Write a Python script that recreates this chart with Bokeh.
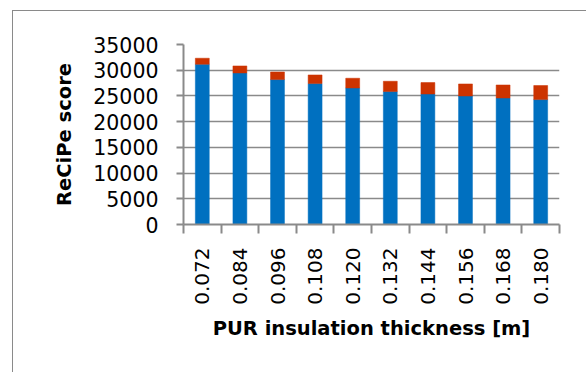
import numpy as np
from bokeh.plotting import figure
from bokeh.models import ColumnDataSource, FixedTicker, Range1d
from bokeh.embed import file_html
from bokeh.resources import INLINE

# ---- data ----
thickness = ["0.072", "0.084", "0.096", "0.108", "0.120",
             "0.132", "0.144", "0.156", "0.168", "0.180"]
series_blue = [31160, 29470, 28180, 27400, 26550, 25850, 25380, 24990, 24600, 24290]
series_red = [1170, 1360, 1480, 1680, 1890, 2000, 2220, 2340, 2530, 2730]
y_ticks = [0, 5000, 10000, 15000, 20000, 25000, 30000, 35000]

n = len(thickness)
centers = [2 * i + 1 for i in range(n)]
bounds = [2 * i for i in range(n + 1)]
blue = np.array(series_blue)
red = np.array(series_red)

src = ColumnDataSource(dict(x=centers, b0=np.zeros(n), b1=blue, t1=blue + red))

FONT = "DejaVu Sans"
GRAY = "#8a8a8a"

p = figure(width=574, height=362, output_backend="svg", toolbar_location=None,
           x_range=Range1d(0, 2 * n), y_range=Range1d(0, 35000),
           min_border_left=170, min_border_right=28, min_border_top=33,
           min_border_bottom=149)
p.styles = {"margin-left": "12px", "margin-top": "10px",
            "border-top": f"1.5px solid {GRAY}",
            "border-left": f"1.5px solid {GRAY}"}
p.outline_line_color = None
p.background_fill_color = "white"
p.border_fill_color = "white"

p.vbar(x="x", bottom="b0", top="b1", width=0.74, source=src,
       fill_color="#0070C0", line_color="#0070C0", line_width=0.5)
p.vbar(x="x", bottom="b1", top="t1", width=0.74, source=src,
       fill_color="#CC3300", line_color="#CC3300", line_width=0.5)

# grid
p.xgrid.grid_line_color = None
p.ygrid.ticker = FixedTicker(ticks=y_ticks)
p.ygrid.grid_line_color = GRAY
p.ygrid.grid_line_width = 1.5

# y axis
ya = p.yaxis[0]
ya.ticker = FixedTicker(ticks=y_ticks)
ya.axis_line_color = GRAY
ya.axis_line_width = 2
ya.major_tick_line_color = GRAY
ya.major_tick_line_width = 2
ya.major_tick_out = 7
ya.major_tick_in = 0
ya.minor_tick_line_color = None
ya.major_label_text_font = FONT
ya.major_label_text_font_size = "20.5px"
ya.major_label_text_color = "black"
ya.major_label_standoff = 18
ya.axis_label = "ReCiPe score"
ya.axis_label_text_font = FONT
ya.axis_label_text_font_size = "19.5px"
ya.axis_label_text_font_style = "bold"
ya.axis_label_text_color = "black"
ya.axis_label_standoff = 14

# x axis
xa = p.xaxis[0]
xa.ticker = FixedTicker(ticks=centers, minor_ticks=bounds)
xa.major_label_overrides = {c: lab for c, lab in zip(centers, thickness)}
xa.major_label_orientation = np.pi / 2
xa.axis_line_color = GRAY
xa.axis_line_width = 2
xa.major_tick_line_color = None
xa.major_tick_out = 0
xa.major_tick_in = 0
xa.minor_tick_line_color = GRAY
xa.minor_tick_line_width = 2
xa.minor_tick_out = 9
xa.minor_tick_in = 0
xa.major_label_text_font = FONT
xa.major_label_text_font_size = "20px"
xa.major_label_text_color = "black"
xa.major_label_standoff = 14
xa.axis_label = "PUR insulation thickness [m]"
xa.axis_label_text_font = FONT
xa.axis_label_text_font_size = "19.5px"
xa.axis_label_text_font_style = "bold"
xa.axis_label_text_color = "black"
xa.axis_label_standoff = 9

open("out.html", "w").write(file_html(p, INLINE))
